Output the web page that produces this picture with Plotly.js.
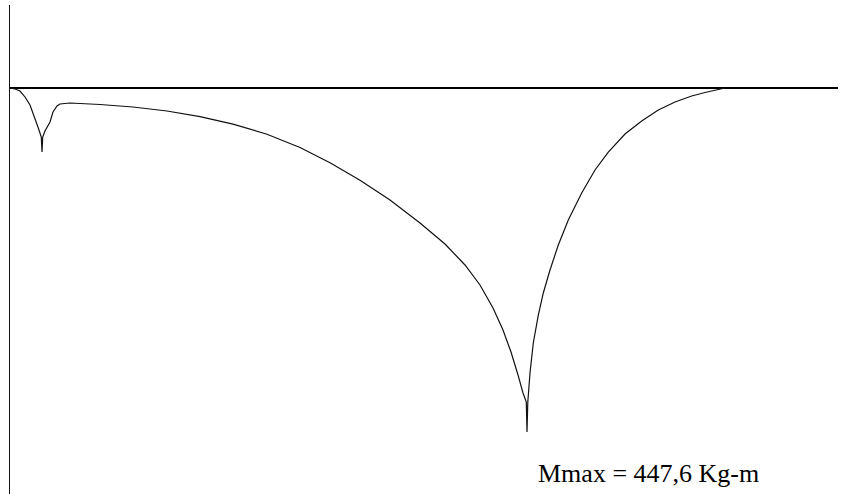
<!DOCTYPE html>
<html>
<head>
<meta charset="utf-8">
<script src="https://cdn.plot.ly/plotly-3.0.1.min.js"></script>
<style>
html,body{margin:0;padding:0;background:#fff;}
#chart{width:847px;height:494px;}
</style>
</head>
<body>
<div id="chart"></div>
<script>
// Beam position (m) and bending moment magnitude (kg-m)
var positions = [0, 0.05, 0.10, 0.15, 0.20, 0.25, 0.283, 0.313, 0.32, 0.327, 0.35, 0.40, 0.43, 0.47, 0.50, 0.60,
  0.90, 1.23, 1.57, 1.90, 2.23, 2.57, 2.90, 3.20, 3.50, 3.80, 4.10, 4.35, 4.55, 4.70, 4.83, 4.93, 5.01, 5.08,
  5.13, 5.163, 5.17, 5.178, 5.20, 5.233, 5.283, 5.333, 5.40, 5.483, 5.583, 5.717, 5.85, 5.983, 6.15, 6.317,
  6.483, 6.65, 6.817, 6.95, 7.08, 7.15];
var moments = [0, 1.3, 3.9, 11.7, 22.1, 39.0, 52.0, 63.8, 83.3, 63.8, 56.0, 44.2, 31.2, 23.4, 20.8, 19.5,
  21.5, 24.7, 29.9, 37.2, 47.0, 60.2, 77.4, 97.3, 120.0, 145.7, 175.7, 203.0, 230.3, 256.3, 286.3, 314.9, 343.5, 373.4,
  396.9, 408.6, 447.6, 408.6, 370.8, 331.8, 295.4, 266.7, 236.8, 204.3, 171.8, 136.6, 106.7, 83.3, 59.9, 42.9,
  28.6, 18.2, 10.4, 5.9, 2.0, 0];
var label = "Mmax = 447,6 Kg-m";

var trace = {
  x: positions,
  y: moments,
  type: 'scatter',
  mode: 'lines',
  line: {color: '#111', width: 1.2},
  hoverinfo: 'none'
};

var layout = {
  width: 847,
  height: 494,
  margin: {l: 10, r: 9, t: 5, b: 0},
  paper_bgcolor: '#fff',
  plot_bgcolor: '#fff',
  showlegend: false,
  xaxis: {
    range: [0, 8.28],
    showgrid: false, zeroline: false, showticklabels: false, ticks: '',
    showline: false
  },
  yaxis: {
    range: [528.3, -108.0],
    showgrid: false, showticklabels: false, ticks: '',
    zeroline: true, zerolinecolor: '#000', zerolinewidth: 2,
    showline: true, linecolor: '#111', linewidth: 1.5, mirror: false
  },
  annotations: [{
    text: label,
    xref: 'paper', yref: 'paper',
    x: 0.6353, y: 0.041,
    xanchor: 'left', yanchor: 'middle',
    showarrow: false,
    font: {family: 'Liberation Serif, Times New Roman, serif', size: 26, color: '#000'}
  }]
};

Plotly.newPlot('chart', [trace], layout, {staticPlot: true, displayModeBar: false});
</script>
</body>
</html>
